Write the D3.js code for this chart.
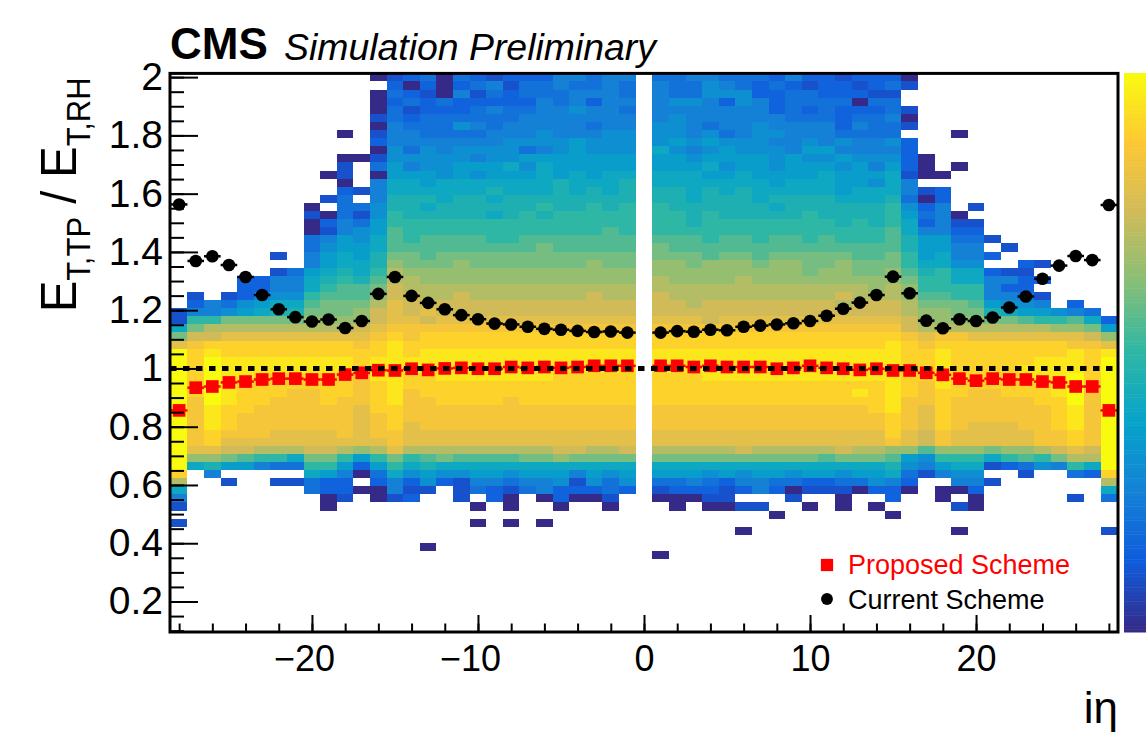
<!DOCTYPE html>
<html>
<head>
<meta charset="utf-8">
<script src="https://cdn.jsdelivr.net/npm/d3@7"></script>
<style>
    html, body { margin: 0; padding: 0; background: #fff; }
    text { font-family: "Liberation Sans", Arial, sans-serif; }
</style>
</head>
<body>
<div id="chart"></div>
<script>
// ieta bins of the two markers, left to right
const ieta = [-28, -27, -26, -25, -24, -23, -22, -21, -20, -19, -18, -17, -16, -15, -14, -13, -12, -11, -10, -9, -8, -7, -6, -5, -4, -3, -2, -1,
    1, 2, 3, 4, 5, 6, 7, 8, 9, 10, 11, 12, 13, 14, 15, 16, 17, 18, 19, 20, 21, 22, 23, 24, 25, 26, 27, 28];

const proposed = [0.856, 0.934, 0.938, 0.952, 0.955, 0.962, 0.965, 0.965, 0.962, 0.962, 0.979, 0.985, 0.994, 0.993, 0.999, 0.995, 1.0, 1.002, 0.999, 0.999, 1.005, 1.002, 1.005, 1.002, 1.005, 1.009, 1.009, 1.009,
    1.009, 1.009, 1.005, 1.009, 1.005, 1.005, 1.005, 0.999, 1.002, 1.009, 1.002, 0.999, 0.995, 0.999, 0.993, 0.993, 0.985, 0.978, 0.965, 0.958, 0.965, 0.962, 0.962, 0.955, 0.952, 0.938, 0.938, 0.856];

const current = [1.563, 1.369, 1.385, 1.355, 1.314, 1.252, 1.203, 1.176, 1.161, 1.168, 1.139, 1.163, 1.256, 1.314, 1.249, 1.225, 1.203, 1.183, 1.169, 1.154, 1.151, 1.143, 1.136, 1.133, 1.129, 1.125, 1.127, 1.123,
    1.123, 1.128, 1.126, 1.133, 1.131, 1.143, 1.147, 1.151, 1.155, 1.163, 1.181, 1.205, 1.226, 1.252, 1.315, 1.258, 1.164, 1.138, 1.169, 1.163, 1.175, 1.209, 1.247, 1.308, 1.353, 1.386, 1.372, 1.561];

// 2D histogram, one string per y bin from the top. "." = empty, 0-9a-k = colour level 0..20
// left of | is ieta -28..-1, right of | is ieta 1..28 (spaces only group the columns)
const histRows = [
    ". ........... 0 234043233355455|44554443533233 3 0 ........... .",
    ". ........... . 303034524454454|54465434323323 4 2 ........... .",
    ". ........... 0 432052434445554|54466633443332 2 . ........... .",
    ". ........... 0 343433333545355|56653653444404 4 . ........... .",
    ". ........... 0 423334544556554|55555553434333 4 2 ........... .",
    ". ........... 2 434444445555555|56555555444344 5 0 ........... .",
    ". ........... 0 544465455555455|66545565555354 4 2 ........... .",
    ". .........0. 2 554444555655566|66564566555444 4 . ..0........ .",
    ". ........... 3 555555566667666|67676665565655 6 3 ........... .",
    ". ........... 0 646566664567666|86567666577555 5 3 ........... .",
    ". .........00 2 666665667777777|77677776766766 6 3 0.......... .",
    ". .........2. 4 756677786877777|77786776777675 7 3 0.0........ .",
    ". ........02. 0 777676777878788|88877877778777 8 2 00......... .",
    ". .........0. 5 887888888898889|88888887888776 8 5 ........... .",
    ". .........32 5 888888988898989|99898988888788 8 5 23......... .",
    ". ........24. 5 999899899999999|99899989999888 9 4 03......... .",
    ". .......0.44 6 998999999a99a9a|a9999998999999 a 6 35.2....... .",
    ". .......2042 6 a9999989a9aaaaa|aa9a99999a9999 a 7 450........ .",
    ". .......0354 7 aaaaaaaaaaaaaaa|aa9aaaaaaaa9a9 a 8 3522....... .",
    ". .......0256 7 baaaaaaaaaaaaba|aaaaaaaaaaaaaa b 8 5533....... .",
    ". .......4576 8 babbbbaabbbbbbb|bbbabbabbabaaa b 9 77442...... .",
    ". .......4677 8 bbbbbbbbbcbbbbb|cbbbbbbbbbbbbb b 9 7755.2..... .",
    ". .....2.5787 9 ccbcccccccccccc|cccbccbcccccbb c a 78553...... .",
    ". .......5788 9 dcccdcccccccdcc|ddcdddcddccdcc c a 8866..32... .",
    ". .....247898 a edddddddddddddd|dddddddddcddcc d b 9a88322.... .",
    ". ...335589a9 b eeddddddddddddd|eddddedddddddd d c aa885533... .",
    ". ...33558abb c feeeeeeeeeeeeee|eeeeeeeeeeeeed e d aaaa533.... .",
    ". 2.23566abbb d ffeefeeeeeeefee|feeeeeeeeeefee e d bbaa5542... .",
    ". 3546788bccc e gffffffffffffff|ffeffffffffeff f e cccb7665.3. .",
    "2 5567899cccd f gfgffffffffffff|ffffffffffffff f e ddcc9877654 .",
    "2 aacccccdddd f ggfgggggggggggg|gggfgggggggggg g f ddddccbaab8 3",
    "8 ceeeeeeeeef g hhhhhhhhhhhhhhh|hhhhhhhhhhhhhh h f eeeeeeeeddc 7",
    "c ffggggggggg h ihiiiiiiiiiiiii|iiiiiiiiiiiiii i h ghhgggggggf d",
    "g hiiiiiiiiih i jiiiiiiiiiiiiii|iiiiiiiiiiiiii j i hiiiiiiiihh g",
    "k ijiiiiiiiii i jijjjjjjjjjjjjj|jjjjjjjjjjjjjj j i ijiiiiiiiji j",
    "k ikjjjjjjjji j jjjjjjjjjjjjjjj|jjjjjjjjjjjjjj j i ijiiiiijjji k",
    "k ikjjjjjjjji j jjjjjjjjjjjjjjj|jjjjjjjjjjjjjj j i ijiiiijjjji k",
    "k ikjjiiiiiih j jiijjjjjjjiiiii|iiijjjjjjjjjjj j i ijjiiijjjki k",
    "k ikjiiiiiiih i jiiiiiiiiiiiiii|iiiiiiiiiiiiii j i hjiiiiiijkh k",
    "k ikjiiihhiih i jhiiiiiiiiiiiii|iiiiiiiiiiiiji j i hiihhiiijkh k",
    "k hkjiihhhihh i jhhiiiihiiiiiii|iiiiiiiiiiiiii j h hihhhhhiikh k",
    "k hjiihhhhhhg i ihhhhhhhhhhhhhh|hhhhhhhhhhhhhi j h gihhhhhhijh k",
    "k hjihhhhhhhg h ihhhhhhhhhhhhhh|hhhhhhhhhhhhhh i h gihhhhhhijh k",
    "k hjihhhhhhhg h ighhhhhhhhhhhhh|hhhhhhhhhhhhhh i h gihggghhijh k",
    "k hihhhgggghg h hgggggggggggggg|gggggggggggggg i g fhggggghhih k",
    "k higgggggggg g hgggggggggggggg|gggggggggggggg h g fhggggghhih k",
    "k ggffeeeffed e geeeeeeeeeffeef|eeeeefeeeeefee d d bdddcddefgf k",
    "k ddcbaa8cca7 a cabcbbbbccdcccc|ccccccccccbccc b 7 6aaa8abacee k",
    "k 8977544aa73 7 a89888888888888|88888888888888 9 6 578823465a8 k",
    "i .5.....8750 4 867667767775767|77767677677677 8 4 2566..2..43 i",
    "e ..2..22433. 3 536325545562646|44543554433446 5 3 ..552...... e",
    "8 .......4330 0 522.24324533343|23332353022203 3 0 .003....... 8",
    "5 ........02. 0 23..2.30.03002.|00022...2..0.. 3 . .0.0.....2. 4",
    "2 ........0.. . .....0.0..0..0.|.0.0022..0.0.0 . . ..20....... .",
    ". ........... . ...............|.......0...... 0 . ........... .",
    "2 ........... . .....0.0.0.....|.............. . . ........... .",
    ". ........... . ...............|.....0........ . . ..0........ 2",
    ". ........... . ...............|.............. . . ........... .",
    ". ........... . ..0............|.............. . . ........... .",
    ". ........... . ...............|0............. . . ........... ."
];

// ROOT kBird palette
const birdStops = [0, 0.125, 0.25, 0.375, 0.5, 0.625, 0.75, 0.875, 1];
const birdColors = ["#352a87", "#0f5cdd", "#1481d6", "#06a4ca", "#2eb7a4", "#87bf77", "#d1bb59", "#fec832", "#f9fb0e"];

const yTicks = [0.2, 0.4, 0.6, 0.8, 1, 1.2, 1.4, 1.6, 1.8, 2];
const xTicks = [-20, -10, 0, 10, 20];

const width = 1146;
const height = 737;
const plot = {left: 170, right: 1118, top: 73.4, bottom: 632};
const binTop = 2.0128;
const binHeight = 0.02779;

const svg = d3.select("#chart")
    .append("svg")
    .attr("width", width)
    .attr("height", height)
    .style("display", "block");

const x = d3.scaleLinear().domain([-28.55, 28.55]).range([plot.left, plot.right]);
const y = d3.scaleLinear().domain([0.0953, binTop]).range([plot.bottom, plot.top]);
const color = d3.scaleLinear().domain(birdStops).range(birdColors);

// turn the strings into cells
const cells = [];
histRows.forEach(function (row, r) {
    const parts = row.replace(/ /g, "").split("|");
    parts.forEach(function (part, side) {
        part.split("").forEach(function (ch, i) {
            if (ch === ".") return;
            cells.push({
                ieta: side === 0 ? i - 28 : i + 1,
                row: r,
                z: parseInt(ch, 21) / 20
            });
        });
    });
});

// the picture is a slightly soft raster, so the cells get a small blur
svg.append("g")
    .style("filter", "blur(0.45px)")
    .selectAll("rect")
    .data(cells)
    .enter()
    .append("rect")
    .attr("x", d => x(d.ieta - 0.5))
    .attr("width", d => x(d.ieta + 0.5) - x(d.ieta - 0.5))
    .attr("y", d => y(binTop - d.row * binHeight))
    .attr("height", d => y(binTop - (d.row + 1) * binHeight) - y(binTop - d.row * binHeight))
    .attr("fill", d => color(d.z))
    .attr("shape-rendering", "crispEdges");

// markers with their horizontal bars
function drawSeries(values, col, symbol) {
    const g = svg.append("g");
    g.selectAll("line")
        .data(values)
        .enter()
        .append("line")
        .attr("x1", (d, i) => x(ieta[i] - 0.5))
        .attr("x2", (d, i) => x(ieta[i] + 0.5))
        .attr("y1", d => y(d))
        .attr("y2", d => y(d))
        .attr("stroke", col)
        .attr("stroke-width", 2.5);
    g.selectAll("path")
        .data(values)
        .enter()
        .append("path")
        .attr("d", symbol)
        .attr("transform", (d, i) => "translate(" + x(ieta[i]) + "," + y(d) + ")")
        .attr("fill", col);
}
const squareMark = d3.symbol().type(d3.symbolSquare).size(160);
const circleMark = d3.symbol().type(d3.symbolCircle).size(125);
drawSeries(proposed, "#ff0000", squareMark);
drawSeries(current, "#000000", circleMark);

// dotted line at 1
svg.append("line")
    .attr("x1", plot.left)
    .attr("x2", plot.right)
    .attr("y1", y(1))
    .attr("y2", y(1))
    .attr("stroke", "#000")
    .attr("stroke-width", 5)
    .attr("stroke-dasharray", "6.5 6.5");

// axes, ticks point into the frame
const yAxis = d3.axisLeft(y).tickValues(yTicks).tickFormat(d3.format("~g")).tickSize(-28).tickPadding(7);
const yMinor = d3.axisLeft(y).tickValues(d3.range(0.1, 2.01, 0.05)).tickFormat("").tickSize(-14);
const xAxis = d3.axisBottom(x).tickValues(xTicks).tickFormat(d3.format("d")).tickSize(-17).tickPadding(13);
const xMinor = d3.axisBottom(x).tickValues(d3.range(-28, 29, 2)).tickFormat("").tickSize(-8.5);

function styleAxis(g, fontSize) {
    g.select(".domain").remove();
    g.selectAll("line").attr("stroke", "#000").attr("stroke-width", 2);
    g.selectAll("text").attr("fill", "#000").style("font-size", fontSize + "px");
}

svg.append("g").attr("transform", "translate(" + plot.left + ",0)").call(yMinor).call(styleAxis, 10);
svg.append("g").attr("transform", "translate(" + plot.left + ",0)").call(yAxis).call(styleAxis, 39);
svg.append("g").attr("transform", "translate(0," + plot.bottom + ")").call(xMinor).call(styleAxis, 10);
const xAxisG = svg.append("g").attr("transform", "translate(0," + plot.bottom + ")").call(xAxis).call(styleAxis, 36);
// the original centres the digits, not the minus sign
xAxisG.selectAll("text").attr("dx", d => d < 0 ? -8 : 0);

// frame
svg.append("rect")
    .attr("x", plot.left)
    .attr("y", plot.top)
    .attr("width", plot.right - plot.left)
    .attr("height", plot.bottom - plot.top)
    .attr("fill", "none")
    .attr("stroke", "#000")
    .attr("stroke-width", 3);

// colour bar, no axis in the picture
const barScale = d3.scaleLinear().domain([0, 1]).range([632, 73]);
svg.append("g")
    .selectAll("rect")
    .data(d3.range(0, 1, 0.005))
    .enter()
    .append("rect")
    .attr("x", 1124)
    .attr("width", 22)
    .attr("y", d => barScale(d + 0.005))
    .attr("height", d => barScale(d) - barScale(d + 0.005) + 0.5)
    .attr("fill", d => color(d));

// title
svg.append("text").attr("x", 170).attr("y", 59)
    .style("font-size", "44px").style("font-weight", "bold").text("CMS");
svg.append("text").attr("x", 284).attr("y", 60)
    .style("font-size", "37.4px").style("font-style", "italic").text("Simulation Preliminary");

// y title
const yTitle = svg.append("text")
    .attr("transform", "translate(76,312) rotate(-90) scale(0.94,1)")
    .style("font-size", "50px");
yTitle.append("tspan").text("E");
yTitle.append("tspan").attr("dy", 14).style("font-size", "33px").text("T,TP");
yTitle.append("tspan").attr("dy", -14).text(" / E");
yTitle.append("tspan").attr("dy", 14).style("font-size", "33px").text("T,RH");

// x title
svg.append("text").attr("x", 1118).attr("y", 723)
    .attr("text-anchor", "end")
    .style("font-size", "44px").text("iη");

// legend
svg.append("path").attr("d", d3.symbol().type(d3.symbolSquare).size(150))
    .attr("transform", "translate(827,565)").attr("fill", "#ff0000");
svg.append("text").attr("x", 848).attr("y", 574).attr("fill", "#ff0000")
    .style("font-size", "27px").text("Proposed Scheme");
svg.append("path").attr("d", d3.symbol().type(d3.symbolCircle).size(110))
    .attr("transform", "translate(827,599)").attr("fill", "#000");
svg.append("text").attr("x", 848).attr("y", 609).attr("fill", "#000")
    .style("font-size", "27px").text("Current Scheme");
</script>
</body>
</html>
